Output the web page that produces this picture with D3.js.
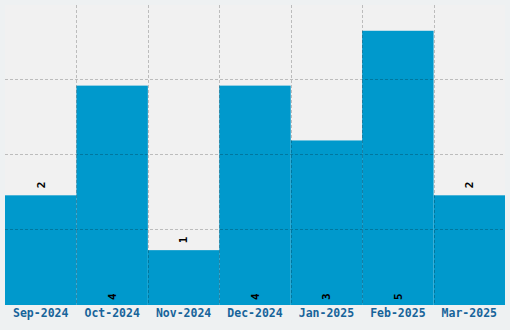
<!DOCTYPE html>
<html lang="en">
  <head>
    <meta charset="UTF-8" />
    <title>Monthly counts</title>
    <style>
      body { margin: 0; background: #eef1f2; }
      svg { display: block; }
    </style>
  </head>
  <body>
    <div id="chart"></div>
    <script src="https://cdn.jsdelivr.net/npm/d3@7/dist/d3.min.js"></script>
    <script>
    // data
    var months = ["Sep-2024", "Oct-2024", "Nov-2024", "Dec-2024", "Jan-2025", "Feb-2025", "Mar-2025"];
    var counts = [2, 4, 1, 4, 3, 5, 2];
    var yMax = 5.47;

    var w = 510, h = 330;
    var m = {top: 5, right: 5, bottom: 25, left: 5};

    var svg = d3.select("#chart")
                .append("svg")
                .attr("width", w)
                .attr("height", h);

    var xScale = d3.scaleBand()
                   .domain(months)
                   .range([m.left, w - m.right])
                   .padding(0);

    var yScale = d3.scaleLinear()
                   .domain([0, yMax])
                   .range([h - m.bottom, m.top]);

    // plot background
    svg.append("rect")
       .attr("x", m.left)
       .attr("y", m.top)
       .attr("width", w - m.left - m.right)
       .attr("height", h - m.top - m.bottom)
       .attr("fill", "#f1f1f1");

    var data = months.map(function(d, i) { return {month: d, n: counts[i]}; });

    // bars
    svg.selectAll("rect.bar")
       .data(data)
       .enter()
       .append("rect")
       .attr("class", "bar")
       .attr("x", function(d) { return xScale(d.month); })
       .attr("width", xScale.bandwidth())
       .attr("y", function(d) { return yScale(d.n); })
       .attr("height", function(d) { return yScale(0) - yScale(d.n); })
       .attr("fill", "#0099cc");

    // grid, drawn on top of the bars
    var grid = svg.append("g")
                  .attr("stroke", "rgba(0,0,0,0.22)")
                  .attr("stroke-dasharray", "3,2");

    grid.selectAll("line.v")
        .data(months.slice(1))
        .enter()
        .append("line")
        .attr("x1", function(d) { return Math.round(xScale(d)) + 0.5; })
        .attr("x2", function(d) { return Math.round(xScale(d)) + 0.5; })
        .attr("y1", m.top)
        .attr("y2", h - m.bottom);

    grid.selectAll("line.h")
        .data([1, 2, 3])
        .enter()
        .append("line")
        .attr("x1", m.left)
        .attr("x2", w - m.right)
        .attr("y1", function(d) { return Math.floor(yScale(yMax * d / 4)) - 0.5; })
        .attr("y2", function(d) { return Math.floor(yScale(yMax * d / 4)) - 0.5; });

    // value labels, rotated; big bars get them inside at the bottom
    svg.selectAll("text.val")
       .data(data)
       .enter()
       .append("text")
       .attr("class", "val")
       .attr("transform", function(d) {
         var cx = xScale(d.month) + xScale.bandwidth() / 2;
         var y = d.n > 2.5 ? yScale(0) - 5 : yScale(d.n) - 7;
         return "translate(" + cx + "," + y + ") rotate(-90)";
       })
       .attr("text-anchor", "start")
       .attr("dy", "0.35em")
       .style("font-family", "'DejaVu Sans Mono', monospace")
       .style("font-weight", "bold")
       .style("font-size", "11px")
       .attr("fill", "#000")
       .text(function(d) { return d.n; });

    // month axis
    var xAxis = d3.axisBottom(xScale).tickSize(0).tickPadding(4);
    var gx = svg.append("g")
                .attr("transform", "translate(0," + (h - m.bottom) + ")")
                .call(xAxis);
    gx.select(".domain").remove();
    gx.selectAll("text")
      .style("font-family", "'DejaVu Sans Mono', monospace")
      .style("font-weight", "bold")
      .style("font-size", "11.5px")
      .attr("fill", "#17649a");
    </script>
  </body>
</html>
